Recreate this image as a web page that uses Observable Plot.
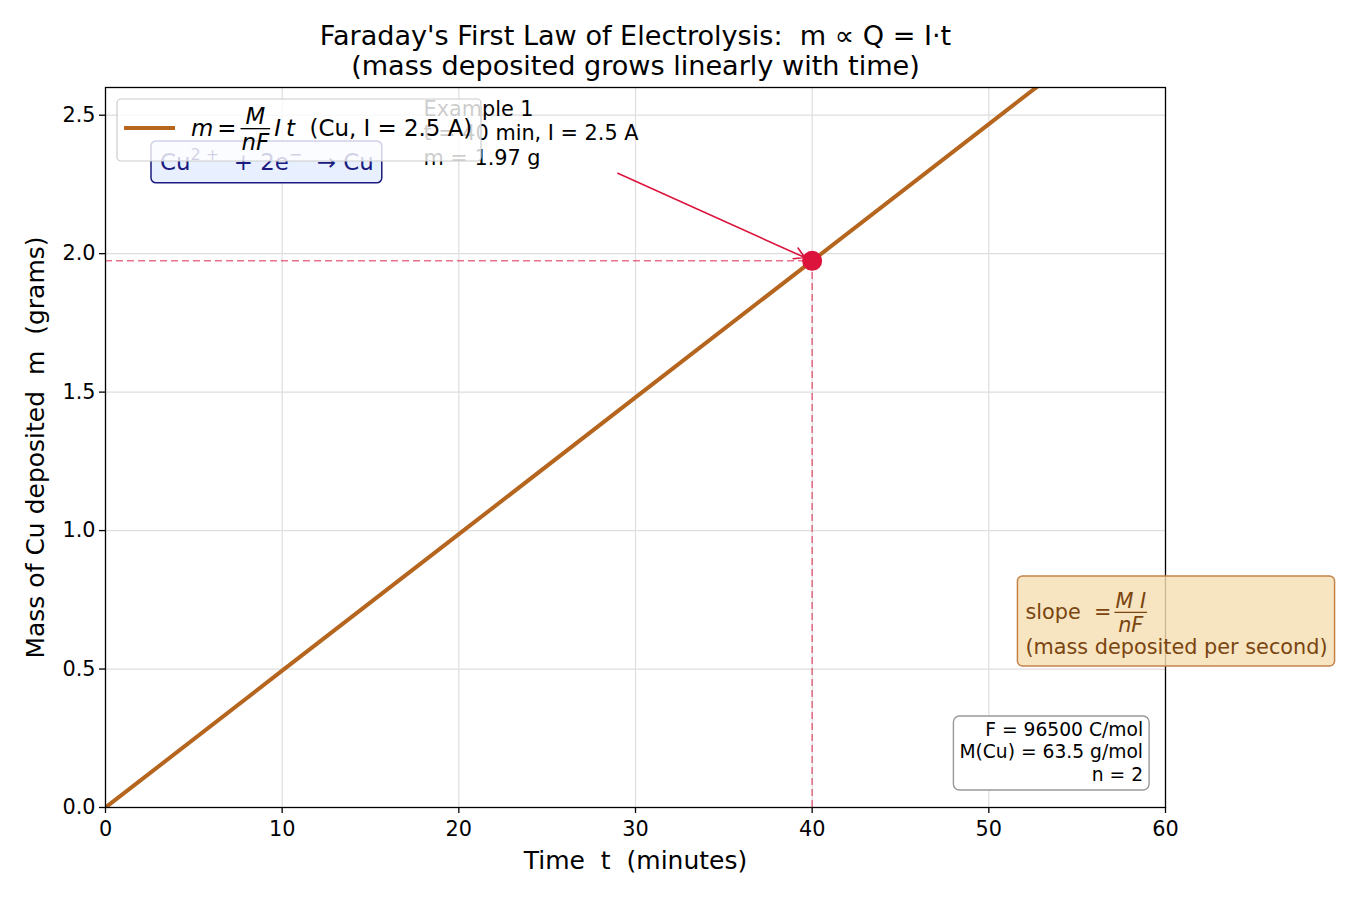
<!DOCTYPE html>
<html>
<head>
<meta charset="utf-8">
<script src="https://cdn.jsdelivr.net/npm/d3@7"></script>
<script src="https://cdn.jsdelivr.net/npm/@observablehq/plot@0.6"></script>
<style>
  body { margin: 0; background: #fff; }
  svg { display: block; }
  svg text { white-space: pre; }
</style>
</head>
<body>
<div id="chart"></div>
<script>
// Copper deposited at I = 2.5 A (M = 63.5 g/mol, n = 2, F = 96500 C/mol)
const timeMin = [0, 10, 20, 30, 40, 50, 60];
const massG = [0, 0.494, 0.987, 1.481, 1.974, 2.468, 2.961];

// Worked example point
const exampleT = [40];
const exampleM = [1.974];

// Axis ticks
const xTicks = [0, 10, 20, 30, 40, 50, 60];
const yTicks = [0, 0.5, 1.0, 1.5, 2.0, 2.5];

const titleLines = ["Faraday's First Law of Electrolysis:  m \u221d Q = I\u00b7t", "(mass deposited grows linearly with time)"];
const xLabel = "Time  t  (minutes)";
const yLabel = "Mass of Cu deposited  m  (grams)";
const constantsLines = ["F = 96500 C/mol", "M(Cu) = 63.5 g/mol", "n = 2"];

const FONT = "DejaVu Sans";
const LINE = "#b5651d";
const RED = "crimson";

const rows = timeMin.map((t, i) => ({t, m: massG[i]}));
const ex = exampleT.map((t, i) => ({t, m: exampleM[i]}));
const exampleText = ex.map(d => `Example 1\nt = ${d.t} min, I = 2.5 A\nm = ${d.m.toFixed(2)} g`);

const plot = Plot.plot({
  width: 1350,
  height: 900,
  marginLeft: 105,
  marginRight: 185,
  marginTop: 87,
  marginBottom: 93,
  style: {fontFamily: FONT, fontSize: "20.8px", color: "#000", background: "#fff"},
  x: {domain: [0, 60]},
  y: {domain: [0, 2.6]},
  marks: [
    Plot.gridX(xTicks, {stroke: "#dedede", strokeOpacity: 1, strokeWidth: 1.2}),
    Plot.gridY(yTicks, {stroke: "#dedede", strokeOpacity: 1, strokeWidth: 1.2}),
    Plot.axisX({ticks: xTicks, tickSize: 6, tickPadding: 8, label: null, fontSize: 20.8, tickFormat: d => String(d), strokeWidth: 1.3}),
    Plot.axisY({ticks: yTicks, tickSize: 6, tickPadding: 4, label: null, fontSize: 20.8, tickFormat: d3.format(".1f"), strokeWidth: 1.3}),
    // guide lines from the example point to both axes
    Plot.ruleY(ex, {y: "m", x1: 0, x2: "t", stroke: RED, strokeOpacity: 0.6, strokeWidth: 1.5, strokeDasharray: "7,4"}),
    Plot.ruleX(ex, {x: "t", y1: 0, y2: "m", stroke: RED, strokeOpacity: 0.6, strokeWidth: 1.5, strokeDasharray: "7,4"}),
    Plot.line(rows, {x: "t", y: "m", stroke: LINE, strokeWidth: 4, clip: true}),
    Plot.text(exampleText, {x: 18, y: 2.3, textAnchor: "start", lineAnchor: "bottom", lineHeight: 1.16, fontSize: 20.8, fill: "#000", dy: -6}),
    Plot.arrow(ex, {x1: 29, y1: 2.29, x2: "t", y2: "m", stroke: RED, strokeWidth: 1.6, headLength: 11, insetEnd: 8, bend: 0}),
    Plot.dot(ex, {x: "t", y: "m", r: 10, fill: RED, stroke: "none"}),
    Plot.frame({stroke: "#000", strokeWidth: 1.3}),
    Plot.text([xLabel], {frameAnchor: "bottom", lineAnchor: "middle", dy: 53, fontSize: 25, fill: "#000"}),
    Plot.text([yLabel], {frameAnchor: "left", textAnchor: "middle", lineAnchor: "middle", dx: -70, rotate: -90, fontSize: 25, fill: "#000"}),
    Plot.text([titleLines.join("\n")], {frameAnchor: "top", lineAnchor: "middle", dy: -37, lineHeight: 1.12, fontSize: 27.1, fill: "#000"})
  ]
});

document.getElementById("chart").append(plot);

// ---- annotation boxes, legend and math text ----
const svg = d3.select(plot);
const sx = plot.scale("x"), sy = plot.scale("y");
const X = v => sx.apply(v), Y = v => sy.apply(v);
const frameLeft = X(0), frameTop = Y(2.6);

function addText(g, x, y, s, fs, opts = {}) {
  return g.append("text")
    .attr("x", x).attr("y", y)
    .attr("font-family", FONT).attr("font-size", fs)
    .attr("fill", opts.fill || "#000")
    .attr("font-style", opts.italic ? "italic" : null)
    .attr("text-anchor", opts.anchor || "start")
    .text(s);
}

// lays out a row of text pieces and fractions, returns end x
function mathRow(g, x, baseline, parts, fs, fill) {
  let cx = x;
  for (const p of parts) {
    if (p.gap) { cx += p.gap; continue; }
    if (p.frac) {
      const n = addText(g, 0, 0, p.frac[0], fs, {italic: true, fill, anchor: "middle"});
      const d = addText(g, 0, 0, p.frac[1], fs, {italic: true, fill, anchor: "middle"});
      const w = Math.max(n.node().getComputedTextLength(), d.node().getComputedTextLength()) + 4;
      const bar = baseline - 0.32 * fs;
      n.attr("x", cx + w / 2).attr("y", bar - 0.22 * fs);
      d.attr("x", cx + w / 2).attr("y", bar + 0.95 * fs);
      g.append("line").attr("x1", cx + 1).attr("x2", cx + w - 1).attr("y1", bar).attr("y2", bar)
        .attr("stroke", fill).attr("stroke-width", 1.3);
      cx += w;
      continue;
    }
    const t = addText(g, cx, baseline, p.s, fs, {italic: p.it, fill});
    cx += t.node().getComputedTextLength();
  }
  return cx;
}

// half-reaction box
{
  const g = svg.append("g");
  const fs = 22.9, navy = "#1a1a80";
  const tx = frameLeft + 55, base = frameTop + 83;
  const rect = g.append("rect");
  const t = g.append("text").attr("x", tx).attr("y", base).attr("text-anchor", "start")
    .attr("font-family", FONT).attr("font-size", fs).attr("fill", navy);
  const sup = 0.42 * fs, ss = 0.7 * fs;
  t.append("tspan").text("Cu");
  t.append("tspan").attr("dy", -sup).attr("font-size", ss).text("2 +");
  t.append("tspan").attr("dy", sup).text("  + 2e");
  t.append("tspan").attr("dy", -sup).attr("font-size", ss).text("\u2212");
  t.append("tspan").attr("dy", sup).text("  \u2192 Cu");
  const bb = t.node().getBBox();
  rect.attr("x", bb.x - 9).attr("y", base - fs * 1.27).attr("width", bb.width + 17).attr("height", fs * 1.83)
    .attr("rx", 5).attr("fill", "#e8f0ff").attr("stroke", navy).attr("stroke-width", 1.5);
}

// legend
{
  const g = svg.append("g");
  g.append("rect").attr("x", frameLeft + 12).attr("y", frameTop + 12).attr("width", 364).attr("height", 62)
    .attr("rx", 4).attr("fill", "#fff").attr("fill-opacity", 0.8).attr("stroke", "#cccccc").attr("stroke-width", 1.2);
  g.append("line").attr("x1", frameLeft + 19).attr("x2", frameLeft + 70).attr("y1", frameTop + 41).attr("y2", frameTop + 41)
    .attr("stroke", LINE).attr("stroke-width", 4);
  mathRow(g, frameLeft + 86, frameTop + 49, [
    {s: "m", it: true}, {gap: 4}, {s: "="}, {gap: 3}, {frac: ["M", "nF"]}, {gap: 3},
    {s: "I", it: true}, {gap: 5}, {s: "t", it: true}, {s: "  (Cu, I = 2.5 A)"}
  ], 22.9, "#000");
}

// slope box
{
  const g = svg.append("g");
  const fs = 20.8, brown = "#7a4510";
  const tx = X(52.1), b1 = Y(0.686) + 2, b2 = b1 + 35;
  const rect = g.append("rect");
  const end1 = mathRow(g, tx, b1, [{s: "slope  ="}, {gap: 2}, {frac: ["M I", "nF"]}], fs, brown);
  const t2 = addText(g, tx, b2, "(mass deposited per second)", fs, {fill: brown});
  const end2 = tx + t2.node().getComputedTextLength();
  rect.attr("x", tx - 8).attr("y", b1 - 43).attr("width", Math.max(end1, end2) - tx + 15).attr("height", b2 - b1 + 55)
    .attr("rx", 5).attr("fill", "#f5deb3").attr("fill-opacity", 0.82).attr("stroke", "#c4844a").attr("stroke-width", 1.5);
}

// constants box
{
  const g = svg.append("g");
  const fs = 18.7, rx = X(58.76), lastBase = Y(0.094), lh = 22.5;
  const rect = g.append("rect");
  let minX = Infinity;
  constantsLines.forEach((s, i) => {
    const t = addText(g, rx, lastBase - (constantsLines.length - 1 - i) * lh, s, fs, {anchor: "end"});
    minX = Math.min(minX, rx - t.node().getComputedTextLength());
  });
  const y0 = lastBase - (constantsLines.length - 1) * lh - 20;
  rect.attr("x", minX - 6).attr("y", y0).attr("width", rx - minX + 12).attr("height", lastBase + 9 - y0)
    .attr("rx", 6).attr("fill", "#fff").attr("stroke", "#999").attr("stroke-width", 1.4);
}
</script>
</body>
</html>
